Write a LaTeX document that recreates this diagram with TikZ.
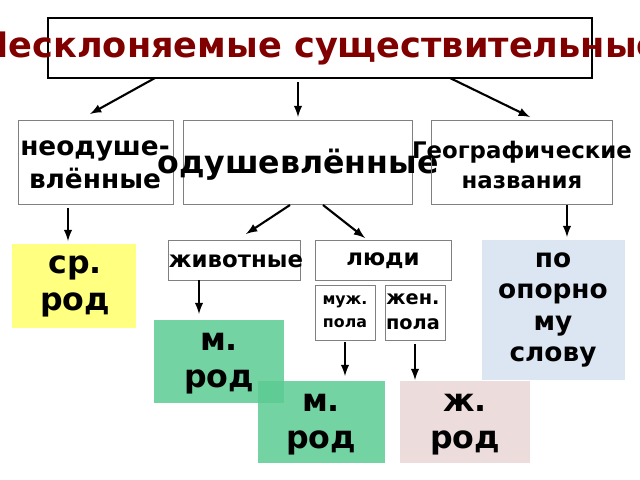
\documentclass[tikz,border=0pt]{standalone}
\usepackage{fontspec}
\setmainfont{DejaVu Sans}
\definecolor{mygreen}{HTML}{5CCB92}
\definecolor{myblue}{HTML}{DCE6F2}
\definecolor{mypink}{HTML}{EDDCDC}
\definecolor{myyellow}{HTML}{FFFF80}
\begin{document}
\begin{tikzpicture}[x=0.02cm,y=-0.02cm,
  arr/.style={-latex,line width=1.2pt},
  lbl/.style={font=\bfseries,align=center,inner sep=0pt}]
  % canvas
  \useasboundingbox (0,0) rectangle (640,480);
  % title
  \draw[line width=1.5pt] (48,18) rectangle (592,78);
  \node[lbl,text=red!50!black,font=\bfseries\fontsize{20}{24}\selectfont] (titletxt) at (320,48) {Несклоняемые существительные};
  % first level
  \draw[gray] (18,120) rectangle (173,204);
  \node[lbl,font=\bfseries\fontsize{15}{19}\selectfont] (inanim) at (95,165) {неодуше-\\влённые};
  \draw[gray] (183,120) rectangle (412,204);
  \node[lbl,font=\bfseries\fontsize{18}{20}\selectfont] (anim) at (298,165) {одушевлённые};
  \draw[gray] (431,120) rectangle (612,204);
  \node[lbl,font=\bfseries\fontsize{13}{17}\selectfont] (geo) at (522,165) {Географические\\названия};
  \coordinate (t1) at (155,78); \coordinate (t2) at (298,82); \coordinate (t3) at (450,78);
  \coordinate (a1) at (90,114); \coordinate (a2) at (298,117); \coordinate (a3) at (530,117);
  \draw[arr] (t1) -- (a1);
  \draw[arr] (t2) -- (a2);
  \draw[arr] (t3) -- (a3);
  % neuter
  \fill[myyellow] (12,244) rectangle (136,328);
  \node[lbl,font=\bfseries\fontsize{18}{21}\selectfont] (neut) at (75,286) {ср.\\род};
  \coordinate (i1) at (68,208); \coordinate (i2) at (68,241);
  \draw[arr] (i1) -- (i2);
  % second level
  \draw[gray] (168,240) rectangle (300,280);
  \node[lbl,font=\bfseries\fontsize{13}{16}\selectfont] (animals) at (236,261) {животные};
  \draw[gray] (315,240) rectangle (451,280);
  \node[lbl,font=\bfseries\fontsize{13}{16}\selectfont] (people) at (383,261) {люди};
  \coordinate (o1) at (290,205); \coordinate (o2) at (323,205);
  \coordinate (b1) at (246,234); \coordinate (b2) at (365,238);
  \draw[arr] (o1) -- (b1);
  \draw[arr] (o2) -- (b2);
  \draw[gray] (315,285) rectangle (375,340);
  \node[lbl,font=\bfseries\fontsize{9}{13}\selectfont] (masc) at (345,312) {муж.\\пола};
  \draw[gray] (385,285) rectangle (445,340);
  \node[lbl,font=\bfseries\fontsize{11}{14}\selectfont] (fem) at (413,312) {жен.\\пола};
  % geo result
  \fill[myblue] (482,240) rectangle (625,380);
  \node[lbl,font=\bfseries\fontsize{15}{18}\selectfont] (word) at (553,310) {по\\опорно\\му\\слову};
  \coordinate (g1) at (567,205); \coordinate (g2) at (567,237);
  \draw[arr] (g1) -- (g2);
  % gender results
  \fill[mygreen,opacity=0.85] (154,320) rectangle (284,403);
  \node[lbl,font=\bfseries\fontsize{18}{21}\selectfont] (m1) at (219,364) {м.\\род};
  \fill[mygreen,opacity=0.85] (258,381) rectangle (385,463);
  \node[lbl,font=\bfseries\fontsize{18}{21}\selectfont] (m2) at (321,425) {м.\\род};
  \fill[mypink] (400,381) rectangle (530,463);
  \node[lbl,font=\bfseries\fontsize{18}{21}\selectfont] (f) at (465,425) {ж.\\род};
  \coordinate (w1) at (199,280); \coordinate (w2) at (199,314);
  \coordinate (p1) at (345,342); \coordinate (p2) at (345,376);
  \coordinate (q1) at (415,344); \coordinate (q2) at (415,380);
  \draw[arr] (w1) -- (w2);
  \draw[arr] (p1) -- (p2);
  \draw[arr] (q1) -- (q2);
\end{tikzpicture}
\end{document}
